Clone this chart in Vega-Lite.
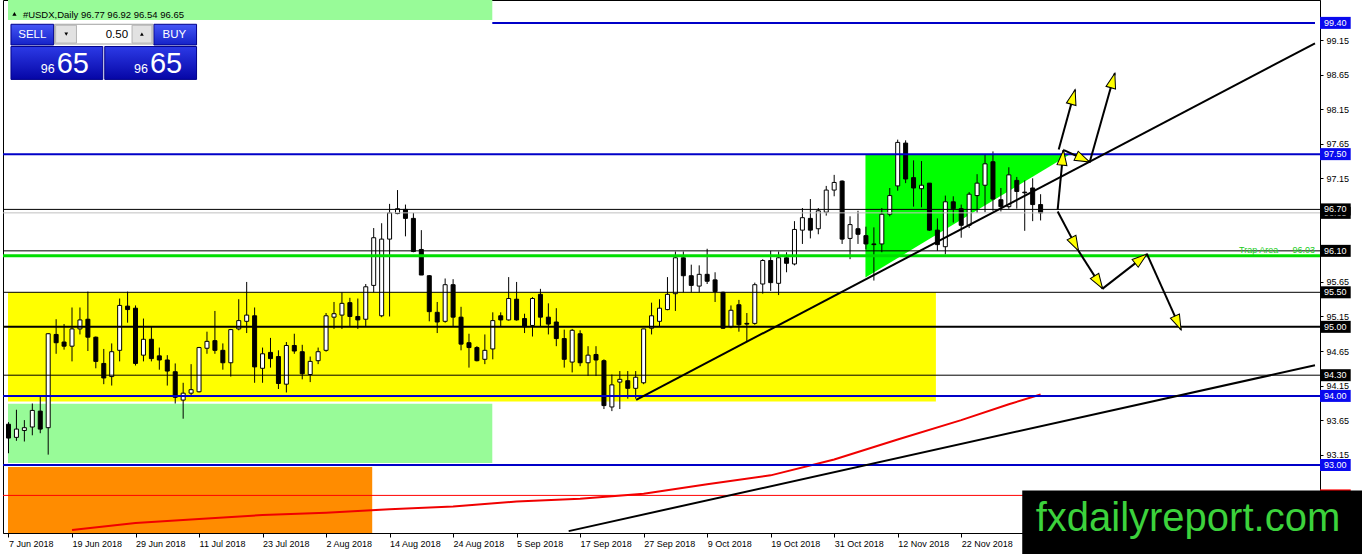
{
"$schema":"https://vega.github.io/schema/vega-lite/v6.json",
"width":1317,"height":533,
"autosize":{"type":"none"},
"padding":{"left":3,"top":0,"right":42,"bottom":21},
"background":"white",
"config":{"view":{"stroke":"#000000","strokeWidth":1},
"axis":{"labelFont":"Liberation Sans","labelFontSize":9,"labelColor":"#000000","domainColor":"#000000","domainWidth":1,"tickColor":"#000000","tickWidth":1,"grid":false,"labelOverlap":false,"labelFlush":false,"labelBound":false}},
"datasets":{
"candles":[
{"i":0,"o":93.59,"h":93.62,"l":93.17,"c":93.39},
{"i":1,"o":93.40,"h":93.80,"l":93.35,"c":93.52},
{"i":2,"o":93.50,"h":93.65,"l":93.34,"c":93.54},
{"i":3,"o":93.55,"h":93.89,"l":93.43,"c":93.79},
{"i":4,"o":93.78,"h":94.01,"l":93.46,"c":93.52},
{"i":5,"o":93.54,"h":94.91,"l":93.15,"c":94.90},
{"i":6,"o":94.89,"h":95.11,"l":94.61,"c":94.77},
{"i":7,"o":94.78,"h":95.04,"l":94.67,"c":94.72},
{"i":8,"o":94.72,"h":95.28,"l":94.50,"c":94.97},
{"i":9,"o":94.97,"h":95.28,"l":94.89,"c":95.10},
{"i":10,"o":95.11,"h":95.51,"l":94.65,"c":94.85},
{"i":11,"o":94.85,"h":94.86,"l":94.40,"c":94.50},
{"i":12,"o":94.47,"h":94.68,"l":94.17,"c":94.26},
{"i":13,"o":94.28,"h":94.76,"l":94.15,"c":94.64},
{"i":14,"o":94.66,"h":95.41,"l":94.50,"c":95.31},
{"i":15,"o":95.30,"h":95.51,"l":95.06,"c":95.25},
{"i":16,"o":95.27,"h":95.31,"l":94.44,"c":94.47},
{"i":17,"o":94.59,"h":95.12,"l":94.50,"c":94.82},
{"i":18,"o":94.82,"h":95.00,"l":94.50,"c":94.54},
{"i":19,"o":94.58,"h":94.70,"l":94.38,"c":94.52},
{"i":20,"o":94.52,"h":94.59,"l":94.15,"c":94.36},
{"i":21,"o":94.35,"h":94.47,"l":93.89,"c":93.98},
{"i":22,"o":93.94,"h":94.19,"l":93.67,"c":94.04},
{"i":23,"o":94.04,"h":94.46,"l":94.00,"c":94.09},
{"i":24,"o":94.06,"h":94.71,"l":94.05,"c":94.70},
{"i":25,"o":94.69,"h":94.93,"l":94.61,"c":94.79},
{"i":26,"o":94.80,"h":95.23,"l":94.61,"c":94.66},
{"i":27,"o":94.66,"h":94.76,"l":94.38,"c":94.48},
{"i":28,"o":94.48,"h":94.97,"l":94.28,"c":94.96},
{"i":29,"o":94.97,"h":95.40,"l":94.95,"c":95.09},
{"i":30,"o":95.08,"h":95.65,"l":94.91,"c":95.17},
{"i":31,"o":95.16,"h":95.28,"l":94.19,"c":94.42},
{"i":32,"o":94.40,"h":94.70,"l":94.19,"c":94.61},
{"i":33,"o":94.63,"h":94.84,"l":94.41,"c":94.54},
{"i":34,"o":94.57,"h":94.66,"l":94.10,"c":94.18},
{"i":35,"o":94.17,"h":94.78,"l":94.05,"c":94.73},
{"i":36,"o":94.73,"h":94.90,"l":94.61,"c":94.65},
{"i":37,"o":94.64,"h":94.74,"l":94.24,"c":94.32},
{"i":38,"o":94.31,"h":94.57,"l":94.20,"c":94.50},
{"i":39,"o":94.51,"h":94.70,"l":94.46,"c":94.64},
{"i":40,"o":94.66,"h":95.20,"l":94.64,"c":95.16},
{"i":41,"o":95.14,"h":95.36,"l":94.97,"c":95.19},
{"i":42,"o":95.17,"h":95.50,"l":94.97,"c":95.34},
{"i":43,"o":95.35,"h":95.42,"l":95.00,"c":95.15},
{"i":44,"o":95.15,"h":95.41,"l":94.97,"c":95.10},
{"i":45,"o":95.11,"h":95.62,"l":95.00,"c":95.58},
{"i":46,"o":95.60,"h":96.43,"l":95.50,"c":96.29},
{"i":47,"o":95.16,"h":96.50,"l":95.14,"c":96.27},
{"i":48,"o":96.27,"h":96.78,"l":95.15,"c":96.65},
{"i":49,"o":96.64,"h":96.98,"l":96.63,"c":96.71},
{"i":50,"o":96.70,"h":96.77,"l":96.31,"c":96.57},
{"i":51,"o":96.57,"h":96.65,"l":96.08,"c":96.09},
{"i":52,"o":96.12,"h":96.40,"l":95.75,"c":95.75},
{"i":53,"o":95.74,"h":95.75,"l":95.08,"c":95.22},
{"i":54,"o":95.21,"h":95.36,"l":94.91,"c":95.07},
{"i":55,"o":95.08,"h":95.70,"l":95.06,"c":95.61},
{"i":56,"o":95.61,"h":95.69,"l":95.00,"c":95.14},
{"i":57,"o":95.14,"h":95.29,"l":94.66,"c":94.75},
{"i":58,"o":94.77,"h":94.90,"l":94.41,"c":94.70},
{"i":59,"o":94.70,"h":94.72,"l":94.50,"c":94.51},
{"i":60,"o":94.53,"h":94.89,"l":94.46,"c":94.66},
{"i":61,"o":94.68,"h":95.21,"l":94.53,"c":95.09},
{"i":62,"o":95.16,"h":95.21,"l":95.00,"c":95.10},
{"i":63,"o":95.10,"h":95.72,"l":95.09,"c":95.41},
{"i":64,"o":95.40,"h":95.65,"l":95.09,"c":95.10},
{"i":65,"o":95.12,"h":95.19,"l":94.91,"c":95.00},
{"i":66,"o":95.02,"h":95.43,"l":94.86,"c":95.41},
{"i":67,"o":95.47,"h":95.55,"l":95.00,"c":95.14},
{"i":68,"o":95.14,"h":95.34,"l":94.89,"c":95.04},
{"i":69,"o":95.07,"h":95.27,"l":94.72,"c":94.83},
{"i":70,"o":94.83,"h":94.96,"l":94.41,"c":94.53},
{"i":71,"o":94.49,"h":94.97,"l":94.34,"c":94.95},
{"i":72,"o":94.90,"h":94.95,"l":94.43,"c":94.48},
{"i":73,"o":94.48,"h":94.72,"l":94.29,"c":94.59},
{"i":74,"o":94.60,"h":94.72,"l":94.29,"c":94.52},
{"i":75,"o":94.51,"h":94.53,"l":93.81,"c":93.86},
{"i":76,"o":93.84,"h":94.31,"l":93.78,"c":94.16},
{"i":77,"o":94.20,"h":94.36,"l":93.81,"c":94.24},
{"i":78,"o":94.22,"h":94.36,"l":93.96,"c":94.11},
{"i":79,"o":94.11,"h":94.36,"l":93.96,"c":94.27},
{"i":80,"o":94.19,"h":94.97,"l":94.17,"c":94.97},
{"i":81,"o":94.98,"h":95.35,"l":94.89,"c":95.16},
{"i":82,"o":95.08,"h":95.40,"l":95.00,"c":95.27},
{"i":83,"o":95.25,"h":95.72,"l":95.24,"c":95.47},
{"i":84,"o":95.48,"h":96.09,"l":95.23,"c":96.00},
{"i":85,"o":96.00,"h":96.09,"l":95.50,"c":95.74},
{"i":86,"o":95.74,"h":95.90,"l":95.50,"c":95.60},
{"i":87,"o":95.59,"h":95.89,"l":95.50,"c":95.76},
{"i":88,"o":95.76,"h":96.13,"l":95.62,"c":95.66},
{"i":89,"o":95.68,"h":95.79,"l":95.36,"c":95.51},
{"i":90,"o":95.50,"h":95.51,"l":94.97,"c":94.98},
{"i":91,"o":95.00,"h":95.31,"l":94.98,"c":95.24},
{"i":92,"o":95.32,"h":95.39,"l":94.93,"c":95.03},
{"i":93,"o":95.05,"h":95.20,"l":94.79,"c":95.04},
{"i":94,"o":95.05,"h":95.64,"l":95.03,"c":95.61},
{"i":95,"o":95.62,"h":95.98,"l":95.48,"c":95.96},
{"i":96,"o":95.96,"h":96.10,"l":95.52,"c":95.64},
{"i":97,"o":95.63,"h":96.09,"l":95.46,"c":96.00},
{"i":98,"o":96.00,"h":96.08,"l":95.79,"c":95.92},
{"i":99,"o":95.91,"h":96.53,"l":95.89,"c":96.41},
{"i":100,"o":96.40,"h":96.72,"l":96.20,"c":96.58},
{"i":101,"o":96.57,"h":96.85,"l":96.28,"c":96.40},
{"i":102,"o":96.42,"h":96.72,"l":96.34,"c":96.68},
{"i":103,"o":96.66,"h":97.04,"l":96.61,"c":96.98},
{"i":104,"o":96.98,"h":97.20,"l":96.89,"c":97.09},
{"i":105,"o":97.11,"h":97.12,"l":96.20,"c":96.27},
{"i":106,"o":96.28,"h":96.60,"l":95.98,"c":96.48},
{"i":107,"o":96.42,"h":96.68,"l":96.20,"c":96.34},
{"i":108,"o":96.32,"h":96.45,"l":96.12,"c":96.20},
{"i":109,"o":96.20,"h":96.44,"l":95.67,"c":96.19},
{"i":110,"o":96.20,"h":96.72,"l":96.08,"c":96.63},
{"i":111,"o":96.63,"h":97.01,"l":96.60,"c":96.90},
{"i":112,"o":97.04,"h":97.71,"l":96.97,"c":97.67},
{"i":113,"o":97.66,"h":97.70,"l":97.08,"c":97.14},
{"i":114,"o":97.16,"h":97.41,"l":96.74,"c":97.01},
{"i":115,"o":97.00,"h":97.40,"l":96.73,"c":97.05},
{"i":116,"o":97.08,"h":97.08,"l":96.39,"c":96.40},
{"i":117,"o":96.40,"h":96.57,"l":96.10,"c":96.19},
{"i":118,"o":96.16,"h":96.90,"l":96.05,"c":96.81},
{"i":119,"o":96.81,"h":96.89,"l":96.51,"c":96.71},
{"i":120,"o":96.71,"h":96.77,"l":96.29,"c":96.47},
{"i":121,"o":96.47,"h":96.95,"l":96.43,"c":96.92},
{"i":122,"o":96.90,"h":97.21,"l":96.65,"c":97.08},
{"i":123,"o":97.05,"h":97.49,"l":96.66,"c":97.36},
{"i":124,"o":97.39,"h":97.54,"l":96.68,"c":96.85},
{"i":125,"o":96.84,"h":97.01,"l":96.67,"c":96.74},
{"i":126,"o":96.74,"h":97.31,"l":96.71,"c":97.20},
{"i":127,"o":97.12,"h":97.17,"l":96.71,"c":96.96},
{"i":128,"o":96.95,"h":97.12,"l":96.39,"c":96.94},
{"i":129,"o":97.01,"h":97.15,"l":96.53,"c":96.77},
{"i":130,"o":96.77,"h":96.92,"l":96.54,"c":96.65}
],
"ma":[
{"i":8,"v":92.06},{"i":16,"v":92.16},{"i":24,"v":92.22},{"i":32,"v":92.275},{"i":40,"v":92.31},{"i":48,"v":92.36},{"i":56,"v":92.40},{"i":64,"v":92.47},{"i":72,"v":92.51},{"i":80,"v":92.585},{"i":88,"v":92.72},{"i":96,"v":92.85},{"i":104,"v":93.08},{"i":112,"v":93.37},{"i":120,"v":93.65},{"i":126,"v":93.88},{"i":130,"v":94.02}
],
"arrows":[
{"i1":132.15,"p1":96.696,"i2":132.875,"p2":97.557},
{"i1":132.94,"p1":97.557,"i2":136.19,"p2":97.386},
{"i1":136.19,"p1":97.386,"i2":139.35,"p2":98.671},
{"i1":132.28,"p1":97.567,"i2":134.35,"p2":98.433},
{"i1":132.15,"p1":96.671,"i2":134.775,"p2":96.10},
{"i1":134.775,"p1":96.10,"i2":137.81,"p2":95.553},
{"i1":137.81,"p1":95.553,"i2":143.4,"p2":96.053},
{"i1":143.4,"p1":96.053,"i2":147.69,"p2":94.957}
]
},
"layer":[
{"data":{"values":[{"a":-0.0625,"b":45.8125,"lo":91.9,"hi":92.971}]},
 "mark":{"type":"rect","fill":"#FF8C00","clip":true},
 "encoding":{
  "x":{"field":"a","type":"quantitative","title":null,"scale":{"domain":[-0.0625,164.5625],"nice":false,"zero":false},
   "axis":{"orient":"bottom","values":[0,8,16,24,32,40,48,56,64,72,80,88,96,104,112,120],"labelExpr":"['7 Jun 2018','19 Jun 2018','29 Jun 2018','11 Jul 2018','23 Jul 2018','2 Aug 2018','14 Aug 2018','24 Aug 2018','5 Sep 2018','17 Sep 2018','27 Sep 2018','9 Oct 2018','19 Oct 2018','31 Oct 2018','12 Nov 2018','22 Nov 2018'][round(datum.value/8)]","labelAlign":"left","tickSize":4,"labelPadding":2}},
  "x2":{"field":"b"},
  "y":{"field":"lo","type":"quantitative","title":null,"scale":{"domain":[92.088,99.659],"nice":false,"zero":false},
   "axis":{"orient":"right","values":[93.15,93.65,94.15,94.65,95.15,95.65,97.15,97.65,98.15,98.65,99.15],"format":".2f","tickSize":3,"labelPadding":3,"labelBaseline":"middle"}},
  "y2":{"field":"hi"}}},
{"data":{"values":[{"a":-0.0625,"b":116.8125,"lo":93.921,"hi":95.5}]},
 "mark":{"type":"rect","fill":"#FFFF00","clip":true},
 "encoding":{"x":{"field":"a","type":"quantitative","title":null},"x2":{"field":"b"},"y":{"field":"lo","type":"quantitative","title":null},"y2":{"field":"hi"}}},
{"data":{"values":[{"a":-0.0625,"b":60.9375,"lo":93.029,"hi":93.886}]},
 "mark":{"type":"rect","fill":"#98FB98","clip":true},
 "encoding":{"x":{"field":"a","type":"quantitative","title":null},"x2":{"field":"b"},"y":{"field":"lo","type":"quantitative","title":null},"y2":{"field":"hi"}}},
{"data":{"values":[{"i":107.94,"top":97.5,"bot":95.714},{"i":133.7,"top":97.5,"bot":97.5}]},
 "mark":{"type":"area","orient":"vertical","fill":"#00FF00","clip":true},
 "encoding":{"x":{"field":"i","type":"quantitative","title":null},"y":{"field":"top","type":"quantitative","title":null},"y2":{"field":"bot"}}},
{"data":{"name":"candles"},
 "mark":{"type":"rule","color":"#000000","strokeWidth":1,"clip":true},
 "encoding":{"x":{"field":"i","type":"quantitative","title":null},"y":{"field":"l","type":"quantitative","title":null},"y2":{"field":"h"}}},
{"data":{"name":"candles"},
 "mark":{"type":"bar","orient":"vertical","size":4,"stroke":"#000000","strokeWidth":1,"clip":true},
 "encoding":{"x":{"field":"i","type":"quantitative","title":null},"y":{"field":"o","type":"quantitative","title":null},"y2":{"field":"c"},
  "fill":{"condition":{"test":"datum.c >= datum.o","value":"#FFFFFF"},"value":"#000000"}}},
{"data":{"name":"ma"},
 "mark":{"type":"line","color":"#F00000","strokeWidth":2,"clip":true},
 "encoding":{"x":{"field":"i","type":"quantitative","title":null},"y":{"field":"v","type":"quantitative","title":null}}},
{"data":{"values":[{"p":92.56}]},
 "mark":{"type":"rule","color":"#FF0000","strokeWidth":1},
 "encoding":{"y":{"field":"p","type":"quantitative","title":null}}},
{"data":{"values":[{"p":97.5},{"p":94.0},{"p":93.0}]},
 "mark":{"type":"rule","color":"#0000C8","strokeWidth":2},
 "encoding":{"y":{"field":"p","type":"quantitative","title":null}}},
{"data":{"values":[{"a":60.9375,"b":164.5625,"p":99.4}]},
 "mark":{"type":"rule","color":"#0000C8","strokeWidth":2},
 "encoding":{"x":{"field":"a","type":"quantitative","title":null},"x2":{"field":"b"},"y":{"field":"p","type":"quantitative","title":null}}},
{"data":{"values":[{"p":96.7},{"p":96.1},{"p":95.5},{"p":94.3}]},
 "mark":{"type":"rule","color":"#000000","strokeWidth":1},
 "encoding":{"y":{"field":"p","type":"quantitative","title":null}}},
{"data":{"values":[{"p":95.0}]},
 "mark":{"type":"rule","color":"#000000","strokeWidth":2},
 "encoding":{"y":{"field":"p","type":"quantitative","title":null}}},
{"data":{"values":[{"p":96.65}]},
 "mark":{"type":"rule","color":"#C0C0C0","strokeWidth":1},
 "encoding":{"y":{"field":"p","type":"quantitative","title":null}}},
{"data":{"values":[{"p":96.03}]},
 "mark":{"type":"rule","color":"#00DD00","strokeWidth":3},
 "encoding":{"y":{"field":"p","type":"quantitative","title":null}}},
{"data":{"values":[{"i1":79.06,"p1":93.943,"i2":164.5625,"p2":99.104},{"i1":70.56,"p1":92.043,"i2":164.5625,"p2":94.443}]},
 "mark":{"type":"rule","color":"#000000","strokeWidth":2,"clip":true},
 "encoding":{"x":{"field":"i1","type":"quantitative","title":null},"x2":{"field":"i2"},"y":{"field":"p1","type":"quantitative","title":null},"y2":{"field":"p2"}}},
{"data":{"name":"arrows"},
 "mark":{"type":"rule","color":"#000000","strokeWidth":2},
 "encoding":{"x":{"field":"i1","type":"quantitative","title":null},"x2":{"field":"i2"},"y":{"field":"p1","type":"quantitative","title":null},"y2":{"field":"p2"}}},
{"data":{"name":"arrows"},
 "transform":[{"calculate":"atan2((datum.i2-datum.i1)*8,(datum.p2-datum.p1)*70)*180/PI","as":"ang"}],
 "mark":{"type":"point","shape":"M0,0L-0.33,1L0.33,1Z","filled":true,"fill":"#FFFF00","stroke":"#000000","strokeWidth":1,"size":900,"opacity":1},
 "encoding":{"x":{"field":"i2","type":"quantitative","title":null},"y":{"field":"p2","type":"quantitative","title":null},"angle":{"field":"ang","type":"quantitative","scale":null}}},
{"data":{"values":[{"i":159.94,"p":96.0714,"t":"Trap Area"},{"i":164.5625,"p":96.0714,"t":"96.03"}]},
 "mark":{"type":"text","align":"right","baseline":"alphabetic","font":"Liberation Sans","fontSize":9,"color":"#22CC22"},
 "encoding":{"x":{"field":"i","type":"quantitative","title":null},"y":{"field":"p","type":"quantitative","title":null},"text":{"field":"t"}}},
{"data":{"values":[{"p":96.65}]},
 "mark":{"type":"bar","orient":"horizontal","size":12,"color":"#000000"},
 "encoding":{"x":{"datum":165.19,"type":"quantitative"},"x2":{"datum":169.06},"y":{"field":"p","type":"quantitative","title":null}}},
{"data":{"values":[{"p":96.65}]},
 "mark":{"type":"text","align":"center","baseline":"middle","font":"Liberation Sans","fontSize":9,"color":"#FFFFFF"},
 "encoding":{"x":{"datum":167.1},"y":{"field":"p","type":"quantitative","title":null},"text":{"field":"p","format":".2f"}}},
{"data":{"values":[{"p":99.4},{"p":97.5},{"p":94.0},{"p":93.0}]},
 "mark":{"type":"bar","orient":"horizontal","size":12,"color":"#0A0AEE"},
 "encoding":{"x":{"datum":165.19,"type":"quantitative"},"x2":{"datum":169.06},"y":{"field":"p","type":"quantitative","title":null}}},
{"data":{"values":[{"p":96.7},{"p":96.1},{"p":95.5},{"p":95.0},{"p":94.3}]},
 "mark":{"type":"bar","orient":"horizontal","size":12,"color":"#000000"},
 "encoding":{"x":{"datum":165.19,"type":"quantitative"},"x2":{"datum":169.06},"y":{"field":"p","type":"quantitative","title":null}}},
{"data":{"values":[{"p":92.56}]},
 "mark":{"type":"bar","orient":"horizontal","size":12,"color":"#FF0000"},
 "encoding":{"x":{"datum":165.19,"type":"quantitative"},"x2":{"datum":169.06},"y":{"field":"p","type":"quantitative","title":null}}},
{"data":{"values":[{"p":99.4},{"p":97.5},{"p":94.0},{"p":93.0},{"p":96.7},{"p":96.1},{"p":95.5},{"p":95.0},{"p":94.3}]},
 "mark":{"type":"text","align":"center","baseline":"middle","font":"Liberation Sans","fontSize":9,"color":"#FFFFFF"},
 "encoding":{"x":{"datum":167.1},"y":{"field":"p","type":"quantitative","title":null},"text":{"field":"p","format":".2f"}}},
{"data":{"values":[{"a":-0.0625,"b":60.9375,"lo":99.4429,"hi":99.75}]},
 "mark":{"type":"rect","fill":"#98FB98","clip":true},
 "encoding":{"x":{"field":"a","type":"quantitative","title":null},"x2":{"field":"b"},"y":{"field":"lo","type":"quantitative","title":null},"y2":{"field":"hi"}}},
{"data":{"values":[{"i":0.75,"p":99.53}]},
 "mark":{"type":"point","shape":"triangle-up","filled":true,"color":"#000000","size":18,"opacity":1},
 "encoding":{"x":{"field":"i","type":"quantitative","title":null},"y":{"field":"p","type":"quantitative","title":null}}},
{"data":{"values":[{"i":1.8125,"p":99.52,"t":"#USDX,Daily  96.77 96.92 96.54 96.65"}]},
 "mark":{"type":"text","align":"left","baseline":"middle","font":"Liberation Sans","fontSize":9.5,"color":"#000000"},
 "encoding":{"x":{"field":"i","type":"quantitative","title":null},"y":{"field":"p","type":"quantitative","title":null},"text":{"field":"t"}}},
{"data":{"values":[{"a":0.3125,"b":5.6875,"lo":99.08,"hi":99.38},{"a":18.3125,"b":23.6875,"lo":99.08,"hi":99.38}]},
 "mark":{"type":"rect","stroke":"#00008B","strokeWidth":1,"fill":{"gradient":"linear","x1":0,"y1":0,"x2":0,"y2":1,"stops":[{"offset":0,"color":"#4456F6"},{"offset":1,"color":"#1522C8"}]}},
 "encoding":{"x":{"field":"a","type":"quantitative","title":null},"x2":{"field":"b"},"y":{"field":"lo","type":"quantitative","title":null},"y2":{"field":"hi"}}},
{"data":{"values":[{"a":5.8125,"b":18.1875,"lo":99.094,"hi":99.38}]},
 "mark":{"type":"rect","fill":"#FFFFFF","stroke":"#A0A0A0","strokeWidth":1},
 "encoding":{"x":{"field":"a","type":"quantitative","title":null},"x2":{"field":"b"},"y":{"field":"lo","type":"quantitative","title":null},"y2":{"field":"hi"}}},
{"data":{"values":[{"a":5.9375,"b":8.5625,"lo":99.108,"hi":99.366},{"a":15.5625,"b":18.0625,"lo":99.108,"hi":99.366}]},
 "mark":{"type":"rect","fill":"#E2E2E2","stroke":"#B4B4B4","strokeWidth":1},
 "encoding":{"x":{"field":"a","type":"quantitative","title":null},"x2":{"field":"b"},"y":{"field":"lo","type":"quantitative","title":null},"y2":{"field":"hi"}}},
{"data":{"values":[{"a":0.3125,"b":11.875,"lo":98.582,"hi":99.058},{"a":12.125,"b":23.6875,"lo":98.582,"hi":99.058}]},
 "mark":{"type":"rect","stroke":"#00008B","strokeWidth":1,"fill":{"gradient":"linear","x1":0,"y1":0,"x2":0,"y2":1,"stops":[{"offset":0,"color":"#2C3AE6"},{"offset":1,"color":"#0606A6"}]}},
 "encoding":{"x":{"field":"a","type":"quantitative","title":null},"x2":{"field":"b"},"y":{"field":"lo","type":"quantitative","title":null},"y2":{"field":"hi"}}},
{"data":{"values":[{"i":7.275,"p":99.237}]},
 "mark":{"type":"point","shape":"triangle-down","filled":true,"color":"#000000","size":14,"opacity":1},
 "encoding":{"x":{"field":"i","type":"quantitative","title":null},"y":{"field":"p","type":"quantitative","title":null}}},
{"data":{"values":[{"i":16.8,"p":99.237}]},
 "mark":{"type":"point","shape":"triangle-up","filled":true,"color":"#000000","size":14,"opacity":1},
 "encoding":{"x":{"field":"i","type":"quantitative","title":null},"y":{"field":"p","type":"quantitative","title":null}}},
{"data":{"values":[{"i":3.0,"p":99.23,"t":"SELL"},{"i":20.9,"p":99.23,"t":"BUY"}]},
 "mark":{"type":"text","align":"center","baseline":"middle","font":"Liberation Sans","fontSize":11.5,"color":"#FFFFFF"},
 "encoding":{"x":{"field":"i","type":"quantitative","title":null},"y":{"field":"p","type":"quantitative","title":null},"text":{"field":"t"}}},
{"data":{"values":[{"i":15.0625,"p":99.23,"t":"0.50"}]},
 "mark":{"type":"text","align":"right","baseline":"middle","font":"Liberation Sans","fontSize":11.5,"color":"#000000"},
 "encoding":{"x":{"field":"i","type":"quantitative","title":null},"y":{"field":"p","type":"quantitative","title":null},"text":{"field":"t"}}},
{"data":{"values":[{"i":4.0625,"p":98.67,"t":"96"},{"i":15.8125,"p":98.67,"t":"96"}]},
 "mark":{"type":"text","align":"left","baseline":"alphabetic","font":"Liberation Sans","fontSize":12.5,"color":"#FFFFFF"},
 "encoding":{"x":{"field":"i","type":"quantitative","title":null},"y":{"field":"p","type":"quantitative","title":null},"text":{"field":"t"}}},
{"data":{"values":[{"i":6.0625,"p":98.67,"t":"65"},{"i":17.8125,"p":98.67,"t":"65"}]},
 "mark":{"type":"text","align":"left","baseline":"alphabetic","font":"Liberation Sans","fontSize":29,"color":"#FFFFFF"},
 "encoding":{"x":{"field":"i","type":"quantitative","title":null},"y":{"field":"p","type":"quantitative","title":null},"text":{"field":"t"}}},
{"data":{"values":[{"a":127.6875,"b":170.5,"lo":91.6,"hi":92.63}]},
 "mark":{"type":"rect","fill":"#000000"},
 "encoding":{"x":{"field":"a","type":"quantitative","title":null},"x2":{"field":"b"},"y":{"field":"lo","type":"quantitative","title":null},"y2":{"field":"hi"}}},
{"data":{"values":[{"i":148.56,"p":92.05,"t":"fxdailyreport.com"}]},
 "mark":{"type":"text","align":"center","baseline":"alphabetic","font":"Liberation Sans","fontSize":40,"color":"#3CD23C"},
 "encoding":{"x":{"field":"i","type":"quantitative","title":null},"y":{"field":"p","type":"quantitative","title":null},"text":{"field":"t"}}}
]
}
